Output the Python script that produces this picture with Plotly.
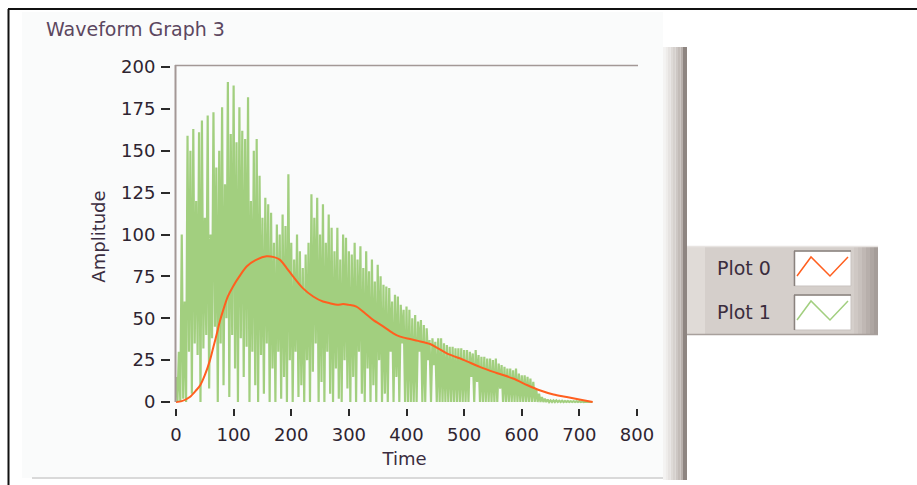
import plotly.graph_objects as go

# ---------------- data ----------------
# Plot 1 (green, noisy waveform): local peaks and troughs, one pair per 5 time units
green_t0 = list(range(0, 725, 5))
green_peaks = [
    15, 30, 100, 60, 159, 150, 163, 120, 161, 168,
    110, 171, 100, 173, 140, 150, 176, 130, 191, 160,
    189, 155, 176, 162, 157, 182, 120, 150, 157, 135,
    110, 122, 118, 113, 95, 106, 100, 112, 105, 136,
    95, 85, 100, 90, 80, 88, 95, 124, 110, 122,
    100, 118, 95, 112, 104, 90, 104, 85, 100, 98,
    90, 88, 95, 85, 93, 80, 90, 78, 85, 72,
    82, 75, 70, 69, 68, 60, 64, 63, 58, 55,
    57, 55, 50, 52, 48, 49, 46, 44, 37, 38,
    36, 38, 38, 35, 34, 33, 33, 32, 32, 32,
    31, 31, 30, 29, 31, 28, 27, 27, 26, 26,
    25, 26, 23, 22, 21, 20, 20, 19, 20, 17,
    16, 16, 15, 14, 12, 8, 5, 3, 2, 1.5,
    1, 1, 1, 0.8, 0.8, 0.6, 0.6, 0.5, 0.5, 0.4,
    0.4, 0.3, 0.2, 0.1, 0,
]
green_troughs = [
    0, 0, 2, 0, 30, 5, 35, 28, 0, 32,
    40, 8, 38, 45, 0, 35, 10, 50, 3, 40,
    20, 0, 38, 15, 33, 0, 30, 10, 0, 28,
    5, 35, 0, 20, 0, 30, 2, 15, 0, 25,
    0, 30, 3, 10, 0, 25, 0, 18, 35, 0,
    12, 0, 30, 5, 0, 20, 2, 0, 25, 8,
    0, 15, 0, 30, 5, 0, 20, 0, 10, 0,
    25, 0, 5, 0, 30, 0, 15, 0, 35, 0,
    0, 0, 0, 0, 30, 0, 0, 25, 0, 22,
    0, 0, 0, 0, 0, 0, 0, 0, 0, 0,
    0, 0, 15, 0, 12, 0, 0, 0, 0, 0,
    0, 0, 8, 0, 0, 0, 0, 0, 0, 0,
    0, 0, 0, 0, 0, 0, 0, 0, 0, 0,
    0, 0, 0, 0, 0, 0, 0, 0, 0, 0,
    0, 0, 0, 0, 0,
]

# Plot 0 (orange, smooth envelope)
orange_t = [0, 10, 24, 35, 42, 50, 59, 65, 71, 76, 82, 90, 99, 110, 123, 140, 157,
            170, 180, 192, 203, 220, 238, 255, 267, 280, 290, 300, 313, 328, 342,
            360, 377, 389, 406, 420, 441, 455, 470, 500, 527, 555, 585, 610, 631,
            655, 678, 700, 723]
orange_v = [0, 0.5, 3, 7, 10, 16, 25, 33, 41, 48, 55, 63, 69, 75, 81, 85, 87,
            86.5, 85, 80, 75, 68, 63, 60, 59, 58, 58.5, 58, 57, 53, 49,
            45, 41, 39, 37.6, 36.5, 34.6, 32, 29, 25, 21, 17.5, 14, 10, 7,
            4.5, 3, 1.5, 0]

x_ticks = [0, 100, 200, 300, 400, 500, 600, 700, 800]
y_ticks = [0, 25, 50, 75, 100, 125, 150, 175, 200]
series_names = ["Plot 0", "Plot 1"]
title_text = "Waveform Graph 3"
x_title = "Time"
y_title = "Amplitude"

ORANGE = "#ff5f1f"
GREEN = "#a2cf7f"
FONT = "DejaVu Sans"
TXT = "#2e2430"

# ---------------- build the zig-zag series ----------------
green_x, green_y = [], []
for t, hi, lo in zip(green_t0, green_peaks, green_troughs):
    green_x += [t, t + 2.5]
    green_y += [hi, lo]

W, H = 917, 485
ML, MR, MT, MB = 171, 279, 65, 77
PW, PH = W - ML - MR, H - MT - MB


def px(xp):
    return (xp - ML) / PW


def py(yp):
    return (H - MB - yp) / PH


fig = go.Figure()
fig.add_trace(go.Scatter(x=green_x, y=green_y, mode="lines", name=series_names[1],
                         line=dict(color=GREEN, width=2.2), showlegend=False))
fig.add_trace(go.Scatter(x=orange_t, y=orange_v, mode="lines", name=series_names[0],
                         line=dict(color=ORANGE, width=2, shape="spline", smoothing=0.8),
                         showlegend=False))

shapes = []


def rect(x0, y0, x1, y1, fill, layer="below", line=None):
    shapes.append(dict(type="rect", xref="paper", yref="paper",
                       x0=px(x0), x1=px(x1), y0=py(y0), y1=py(y1),
                       fillcolor=fill, layer=layer,
                       line=line or dict(width=0)))


def seg(x0, y0, x1, y1, color, width, layer="above"):
    shapes.append(dict(type="line", xref="paper", yref="paper",
                       x0=px(x0), x1=px(x1), y0=py(y0), y1=py(y1),
                       line=dict(color=color, width=width), layer=layer))


# panel background
rect(22, 12, 663, 478, "#fafbfb")
seg(32, 478, 663, 478, "#d9d9d9", 2)
# outer black border
seg(8, 9, 917, 9, "#111111", 2)
seg(8.5, 9, 8.5, 485, "#111111", 2)

# vertical gradient bar
bar_cols = ["#f4f3f2", "#eeecea", "#e6e3e1", "#dedad7", "#d6d1ce", "#cdc7c4",
            "#c3bcb8", "#b8b0ac"]
for i, c in enumerate(bar_cols):
    rect(663 + i * 2.5, 47, 663 + (i + 1) * 2.5, 480, c)
rect(683, 47, 687, 480, "#8e8581")

# plot frame (left + top)
seg(175.5, 65, 175.5, 402, "#a39896", 2)
seg(175, 65.5, 638, 65.5, "#a39896", 1.5)

# legend box
rect(687, 246, 878, 335, "#d5cfcb")
rect(687, 246, 705, 335, "#e0dbd7")
leg_cols = ["#cfc8c4", "#c8c1bd", "#c0b8b4", "#b7afab", "#aea6a2", "#a59d99"]
for i, c in enumerate(leg_cols):
    rect(854 + i * 4, 246, 854 + (i + 1) * 4, 335, c)
seg(687, 246.5, 878, 246.5, "#e8e4e1", 1.5)
seg(687, 334.5, 878, 334.5, "#a8a09c", 1.5)

# swatch boxes and zig-zag samples
for k, (y0, col) in enumerate([(251, ORANGE), (295, GREEN)]):
    rect(794, y0, 851, y0 + 35, "#ffffff", layer="above",
         line=dict(color="#c9c3c0", width=1))
    seg(794, y0, 851, y0, "#8a827e", 1.5)
    seg(794.5, y0, 794.5, y0 + 35, "#8a827e", 1.5)
    pts = [(797, y0 + 25), (811, y0 + 6), (830, y0 + 25), (848, y0 + 6)]
    path = "M " + " L ".join(f"{px(a)},{py(b)}" for a, b in pts)
    shapes.append(dict(type="path", xref="paper", yref="paper", path=path,
                       line=dict(color=col, width=1.5), layer="above"))

annotations = [
    dict(text=title_text, xref="paper", yref="paper", x=px(44), y=py(29),
         xanchor="left", yanchor="middle", showarrow=False,
         font=dict(family=FONT, size=19, color="#5c4760")),
    dict(text=series_names[0], xref="paper", yref="paper", x=px(715), y=py(268),
         xanchor="left", yanchor="middle", showarrow=False,
         font=dict(family=FONT, size=19, color="#3a2d3d")),
    dict(text=series_names[1], xref="paper", yref="paper", x=px(715), y=py(312),
         xanchor="left", yanchor="middle", showarrow=False,
         font=dict(family=FONT, size=19, color="#3a2d3d")),
]

fig.update_layout(
    width=W, height=H,
    margin=dict(l=ML, r=MR, t=MT, b=MB, pad=0),
    paper_bgcolor="#ffffff",
    plot_bgcolor="#fdfdfd",
    font=dict(family=FONT, size=18, color=TXT),
    showlegend=False,
    shapes=shapes,
    annotations=annotations,
    xaxis=dict(range=[-8.68, 801.7], tickvals=x_ticks, ticks="outside", ticklen=7,
               tickwidth=2, tickcolor="#2a2a2a", showline=False, showgrid=False,
               zeroline=False, tickfont=dict(size=18, color=TXT),
               ticklabelstandoff=3,
               title=dict(text=x_title, font=dict(size=18, color="#3a2d40"), standoff=8)),
    yaxis=dict(range=[-3.58, 201.2], tickvals=y_ticks, ticks="outside", ticklen=9,
               tickwidth=2, tickcolor="#2a2a2a", showline=False, showgrid=False,
               zeroline=False, tickfont=dict(size=18, color=TXT),
               ticklabelstandoff=2,
               title=dict(text=y_title, font=dict(size=18, color="#3a2d40"), standoff=10)),
)

fig.write_html("out.html", config={"displayModeBar": False},
               post_script="document.body.style.margin='0';document.body.style.overflow='hidden';")
